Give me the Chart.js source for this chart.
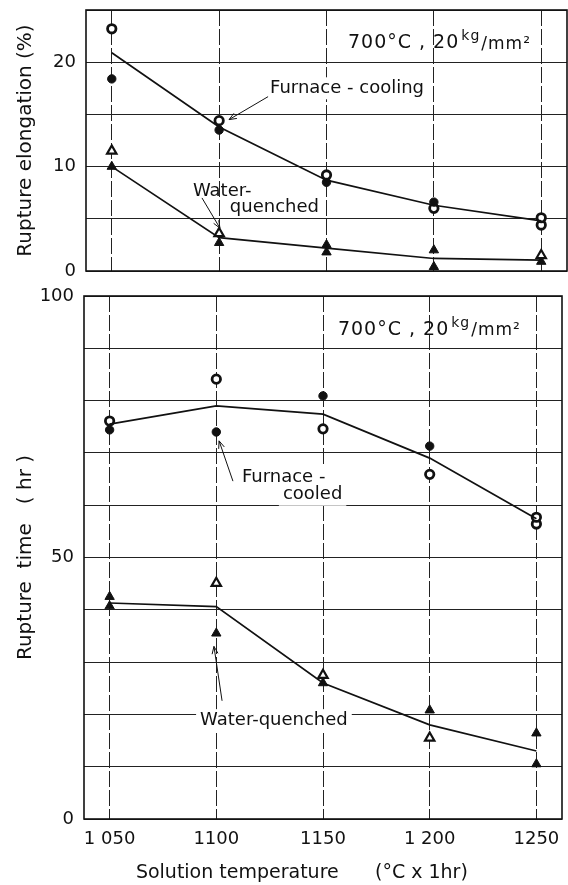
<!DOCTYPE html>
<html><head><meta charset="utf-8">
<script src="https://cdn.jsdelivr.net/npm/chart.js@4"></script>
<style>
html,body{margin:0;padding:0;background:#fff;overflow:hidden;}
#c1{position:absolute;left:0;top:0;}
#c2{position:absolute;left:0;top:285px;}
</style></head><body>
<canvas id="c1" width="568" height="285"></canvas>
<canvas id="c2" width="568" height="600"></canvas>
<script>
// ---- data ----
const temps = [1050, 1100, 1150, 1200, 1250];
const tempLabels = ['1 050', '1100', '1150', '1 200', '1250'];
const elongTickLabels = [0, 10, 20];
const timeTickLabels = [0, 50, 100];

// Top panel: rupture elongation (%)   'o' = open marker, 'f' = filled marker
const elongFurnaceUpper = [23.2, 14.4, 9.2, 6.6, 5.1];
const elongFurnaceUpperKind = ['o', 'o', 'o', 'f', 'o'];
const elongFurnaceLower = [18.4, 13.5, 8.5, 6.0, 4.4];
const elongFurnaceLowerKind = ['f', 'f', 'f', 'o', 'o'];
const elongFurnaceCurve = [20.9, 13.8, 8.7, 6.3, 4.8];

const elongWaterUpper = [11.5, 3.6, 2.5, 2.0, 1.5];
const elongWaterUpperKind = ['o', 'o', 'f', 'f', 'o'];
const elongWaterLower = [10.0, 2.7, 1.8, 0.4, 0.9];
const elongWaterLowerKind = ['f', 'f', 'f', 'f', 'f'];
const elongWaterCurve = [10.0, 3.2, 2.2, 1.2, 1.05];

// Bottom panel: rupture time (hr)
const timeFurnaceUpper = [76.1, 84.1, 80.9, 71.3, 57.7];
const timeFurnaceUpperKind = ['o', 'o', 'f', 'f', 'o'];
const timeFurnaceLower = [74.4, 74.0, 74.6, 65.9, 56.4];
const timeFurnaceLowerKind = ['f', 'f', 'o', 'o', 'o'];
const timeFurnaceCurve = [75.5, 79.0, 77.4, 69.0, 57.4];

const timeWaterUpper = [42.5, 45.1, 27.5, 20.8, 16.4];
const timeWaterUpperKind = ['f', 'o', 'o', 'f', 'f'];
const timeWaterLower = [40.7, 35.5, 26.0, 15.5, 10.5];
const timeWaterLowerKind = ['f', 'f', 'f', 'o', 'f'];
const timeWaterCurve = [41.3, 40.6, 26.0, 18.0, 13.0];

// ---- helpers ----
const FONT = '"DejaVu Sans", sans-serif';
const INK = '#111';
function pts(vals) { return temps.map((x, i) => ({ x: x, y: vals[i] })); }
function markers(vals, kinds, shape) {
  const circ = shape === 'circle';
  return {
    data: pts(vals), showLine: false, pointStyle: shape,
    pointRadius: circ ? 4.2 : 5.4, pointHoverRadius: circ ? 4.2 : 5.4,
    pointBackgroundColor: c => kinds[c.dataIndex] === 'o' ? '#fff' : INK,
    pointBorderColor: INK,
    pointBorderWidth: c => kinds[c.dataIndex] === 'o' ? (circ ? 2.8 : 2.2) : 1
  };
}
function curve(vals) {
  return { data: pts(vals), showLine: true, borderColor: INK, borderWidth: 1.7,
    pointRadius: 0, pointHoverRadius: 0, fill: false, tension: 0 };
}

function drawArrow(ctx, x1, y1, x2, y2) {
  ctx.save();
  ctx.strokeStyle = INK; ctx.lineWidth = 1;
  ctx.beginPath(); ctx.moveTo(x1, y1); ctx.lineTo(x2, y2); ctx.stroke();
  const a = Math.atan2(y2 - y1, x2 - x1), L = 8, s = 0.38;
  ctx.beginPath();
  ctx.moveTo(x2 - L * Math.cos(a - s), y2 - L * Math.sin(a - s));
  ctx.lineTo(x2, y2);
  ctx.lineTo(x2 - L * Math.cos(a + s), y2 - L * Math.sin(a + s));
  ctx.stroke();
  ctx.restore();
}

function annotPlugin(spec) {
  return {
    id: 'annot',
    beforeDatasetsDraw(chart) {
      const ctx = chart.ctx, xs = chart.scales.x, ys = chart.scales.y;
      const ca = chart.chartArea;
      ctx.save();
      ctx.textBaseline = 'middle'; ctx.textAlign = 'left';
      ctx.font = '18px ' + FONT;
      (spec.labels || []).forEach(l => {
        const px = xs.getPixelForValue(l.x), py = ys.getPixelForValue(l.y);
        const w = ctx.measureText(l.text).width;
        if (l.box) { ctx.fillStyle = '#fff'; ctx.fillRect(px - 4, py - 11, w + 8, 22); }
      });
      (spec.labels || []).forEach(l => {
        const px = xs.getPixelForValue(l.x), py = ys.getPixelForValue(l.y);
        ctx.fillStyle = INK; ctx.fillText(l.text, px, py);
      });
      if (spec.cond) {
        let px = xs.getPixelForValue(spec.cond.x), py = ys.getPixelForValue(spec.cond.y);
        ctx.fillStyle = INK;
        ctx.letterSpacing = '1px';
        ctx.font = '19px ' + FONT; ctx.fillText('700°C , 20', px, py);
        px += ctx.measureText('700°C , 20').width + 2;
        ctx.font = '14px ' + FONT; ctx.fillText('kg', px, py - 7);
        px += ctx.measureText('kg').width + 1;
        ctx.font = '17px ' + FONT; ctx.fillText('/mm²', px, py + 1);
        ctx.letterSpacing = '0px';
      }
      (spec.arrows || []).forEach(a => {
        drawArrow(ctx, xs.getPixelForValue(a[0]), ys.getPixelForValue(a[1]),
                       xs.getPixelForValue(a[2]), ys.getPixelForValue(a[3]));
      });
      ctx.strokeStyle = INK; ctx.lineWidth = 1.6;
      ctx.strokeRect(ca.left, ca.top, ca.right - ca.left, ca.bottom - ca.top);
      ctx.restore();
    }
  };
}

function xScale(showLabels) {
  return {
    type: 'linear', min: 1038, max: 1262,
    afterBuildTicks: s => { s.ticks = temps.map(v => ({ value: v })); },
    grid: { color: '#222', lineWidth: 1, drawTicks: false },
    border: { display: false, dash: [16, 3] },
    ticks: { display: showLabels, color: INK, font: { family: FONT, size: 18 }, padding: 10,
      maxRotation: 0, autoSkip: false,
      callback: v => tempLabels[temps.indexOf(v)] },
    title: { display: showLabels, text: 'Solution temperature      (°C x 1hr)       ',
      color: INK, font: { family: FONT, size: 19 }, padding: { top: 0, bottom: 1 } },
    afterFit: s => { s.height = showLabels ? 66 : 0; s.paddingLeft = 0; s.paddingRight = 0; }
  };
}
function yScale(max, step, labels, title, width) {
  const tv = []; for (let v = 0; v <= max; v += step) tv.push(v);
  return {
    type: 'linear', min: 0, max: max,
    afterBuildTicks: s => { s.ticks = tv.map(v => ({ value: v })); },
    grid: { color: '#222', lineWidth: 1, drawTicks: false },
    border: { display: false },
    ticks: { color: INK, font: { family: FONT, size: 18 }, padding: 10,
      callback: v => labels.includes(v) ? String(v) : '' },
    title: { display: true, text: title, color: INK, font: { family: FONT, size: 20 },
      padding: { top: 14, bottom: 0 } },
    afterFit: s => { s.width = width; s.paddingTop = 0; s.paddingBottom = 0; }
  };
}

const common = {
  responsive: false, maintainAspectRatio: false, animation: false, devicePixelRatio: 1,
  plugins: { legend: { display: false }, tooltip: { enabled: false } }
};

new Chart(document.getElementById('c1'), {
  type: 'scatter',
  data: { datasets: [
    curve(elongFurnaceCurve), curve(elongWaterCurve),
    markers(elongFurnaceUpper, elongFurnaceUpperKind, 'circle'),
    markers(elongFurnaceLower, elongFurnaceLowerKind, 'circle'),
    markers(elongWaterUpper, elongWaterUpperKind, 'triangle'),
    markers(elongWaterLower, elongWaterLowerKind, 'triangle')
  ]},
  options: Object.assign({}, common, {
    layout: { autoPadding: false, padding: { top: 10, right: 1, bottom: 14, left: 0 } },
    scales: { x: xScale(false), y: yScale(25, 5, elongTickLabels, 'Rupture elongation (%)', 86) }
  }),
  plugins: [annotPlugin({
    cond: { x: 1160, y: 21.8 },
    labels: [
      { text: 'Furnace - cooling', x: 1123.7, y: 17.5, box: true },
      { text: 'Water-', x: 1087.8, y: 7.6, box: false },
      { text: 'quenched', x: 1105, y: 6.1, box: false }
    ],
    arrows: [[1122.8, 16.7, 1104.6, 14.5], [1092, 7.0, 1100.4, 4.1]]
  })]
});

new Chart(document.getElementById('c2'), {
  type: 'scatter',
  data: { datasets: [
    curve(timeFurnaceCurve), curve(timeWaterCurve),
    markers(timeFurnaceUpper, timeFurnaceUpperKind, 'circle'),
    markers(timeFurnaceLower, timeFurnaceLowerKind, 'circle'),
    markers(timeWaterUpper, timeWaterUpperKind, 'triangle'),
    markers(timeWaterLower, timeWaterLowerKind, 'triangle')
  ]},
  options: Object.assign({}, common, {
    layout: { autoPadding: false, padding: { top: 11, right: 6, bottom: 0, left: 0 } },
    scales: { x: xScale(true), y: yScale(100, 10, timeTickLabels, 'Rupture  time   ( hr )', 84) }
  }),
  plugins: [annotPlugin({
    cond: { x: 1157, y: 93.5 },
    labels: [
      { text: 'Furnace -', x: 1112, y: 65.4, box: true },
      { text: 'cooled', x: 1131.2, y: 62.0, box: true },
      { text: 'Water-quenched', x: 1092.4, y: 18.9, box: true }
    ],
    arrows: [[1107.8, 64.6, 1101.3, 72.3], [1102.7, 22.6, 1098.9, 33.0]]
  })]
});
</script>
</body></html>
